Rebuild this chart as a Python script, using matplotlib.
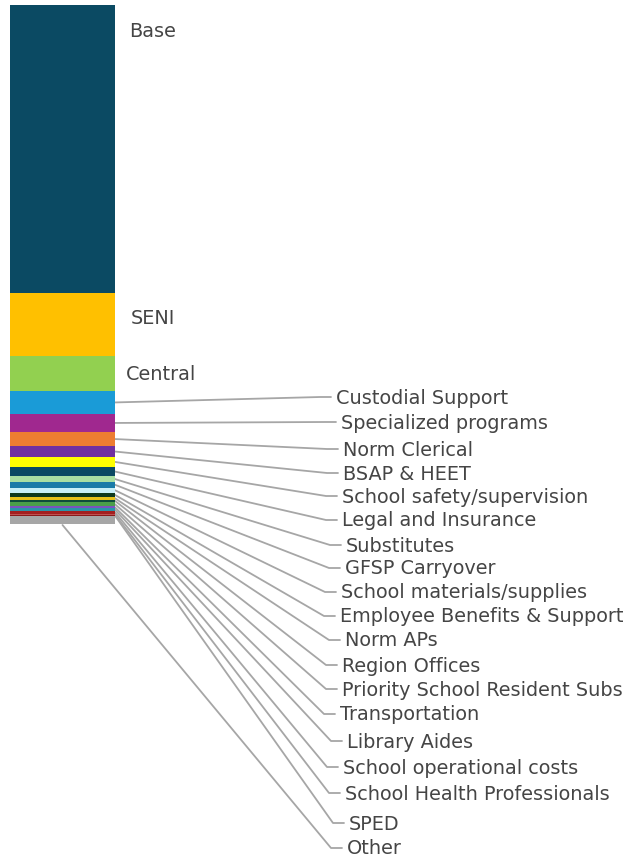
"""Stacked single-bar budget breakdown with leader-line labels."""

import matplotlib
matplotlib.use("Agg")
import matplotlib.pyplot as plt
import numpy as np

# share of total budget (%), top of bar first
categories = [
    "Base", "SENI", "Central", "Custodial Support", "Specialized programs",
    "Norm Clerical", "BSAP & HEET", "School safety/supervision",
    "Legal and Insurance", "Substitutes", "GFSP Carryover",
    "School materials/supplies", "Employee Benefits & Support", "Norm APs",
    "Region Offices", "Priority School Resident Subs", "Transportation",
    "Library Aides", "School operational costs", "School Health Professionals",
    "SPED", "Other",
]
shares = [
    55.4, 12.2, 6.7, 4.4, 3.5, 2.7, 2.1, 1.9, 1.8, 1.1, 1.1,
    1.0, 0.8, 0.5, 0.5, 0.8, 0.4, 0.5, 0.5, 0.3, 0.2, 1.5,
]
colors = [
    "#0B4A63", "#FFC000", "#92D050", "#1A9BD7", "#A0288F", "#ED7D31",
    "#7030A0", "#FFFF00", "#0B4A63", "#A9DFA3", "#1A7BA8", "#C9F0F8",
    "#0F3A1E", "#E8C21A", "#0E4B3C", "#4A9E4A", "#7A52C0", "#2A93A8",
    "#A31F1F", "#C05050", "#8B1A1A", "#A6A6A6",
]

W, H = 635, 857
fig = plt.figure(figsize=(W / 100, H / 100), dpi=100)
fig.patch.set_facecolor("white")

# bar axes: pixel box of the bar
bx0, bx1, by0, by1 = 10, 115, 5, 524
ax = fig.add_axes([bx0 / W, 1 - by1 / H, (bx1 - bx0) / W, (by1 - by0) / H])
total = sum(shares)
bottoms = np.concatenate([[0], np.cumsum(shares)[:-1]])
ax.bar(0, shares, bottom=bottoms, width=1.0, color=colors, linewidth=0)
ax.set_xlim(-0.5, 0.5)
ax.set_ylim(total, 0)
ax.axis("off")

# overlay in pixel coords for labels and leaders
ov = fig.add_axes([0, 0, 1, 1], zorder=-1)
ov.set_xlim(0, W)
ov.set_ylim(H, 0)
ov.axis("off")

text_kw = dict(fontsize=13.9, color="#454545", va="center", ha="left",
               family=["DejaVu Sans"])

# big segments: labels next to bar, no leaders
big_pos = [(129, 31), (131, 318), (126, 374)]
for name, (lx, ly) in zip(categories[:3], big_pos):
    ov.text(lx, ly, name, **text_kw)

small_pos = [
    (336, 398), (341, 423), (343, 450), (343, 474), (342, 497), (342, 521),
    (346, 546), (345, 569), (341, 593), (340, 617), (345, 641), (342, 666),
    (342, 690), (340, 715), (347, 742), (343, 768), (345, 794), (349, 824),
    (347, 849),
]

to_px = ax.transData + ov.transData.inverted()
line_kw = dict(color="#A6A6A6", lw=1.3, solid_capstyle="round")
for i, (lx, ly) in enumerate(small_pos):
    idx = i + 3
    mid = bottoms[idx] + shares[idx] / 2
    if categories[idx] == "Other":
        sx, sy = to_px.transform((0, bottoms[idx] + shares[idx]))
        sy += 1
    else:
        sx, sy = to_px.transform((0.5, mid))
    ov.plot([sx, lx - 16, lx - 5], [sy, ly - 1, ly - 1], **line_kw)
    ov.text(lx, ly, categories[idx], **text_kw)

fig.savefig("out.png", dpi=100, facecolor="white")
